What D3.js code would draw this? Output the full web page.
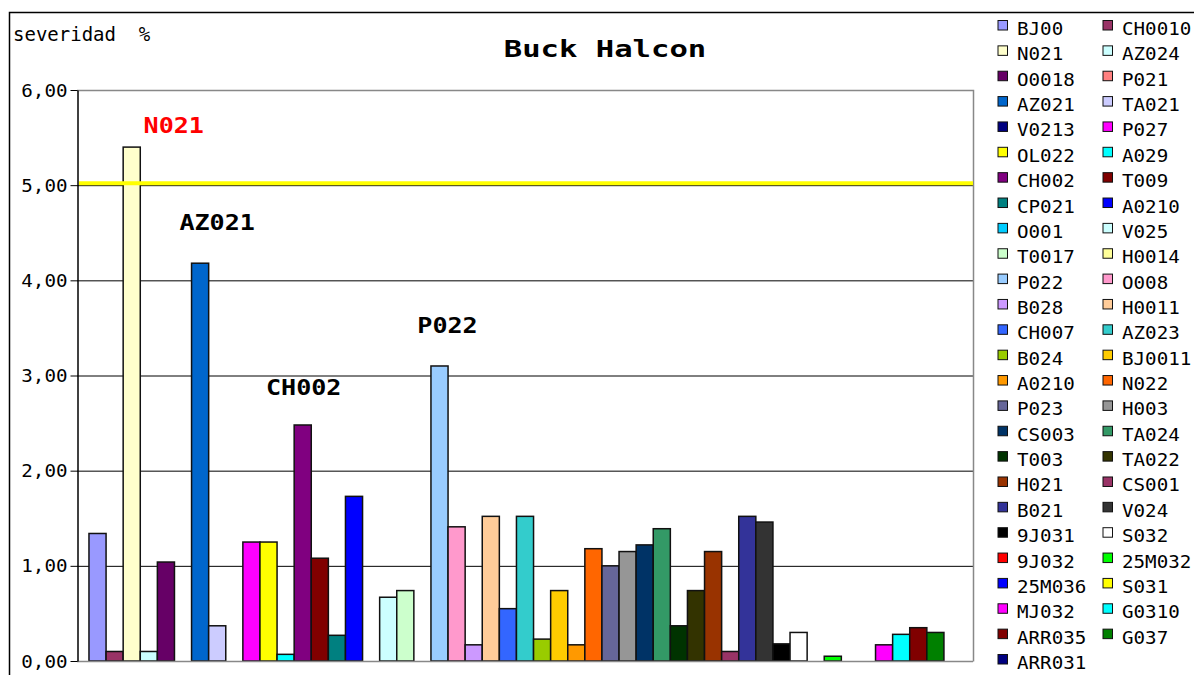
<!DOCTYPE html>
<html>
<head>
<meta charset="utf-8">
<script src="https://cdn.jsdelivr.net/npm/d3@7/dist/d3.min.js"></script>
<style>
  html, body { margin: 0; padding: 0; background: #fff; }
  svg { display: block; }
  text { font-family: "DejaVu Sans Mono", monospace; fill: #000; }
</style>
</head>
<body>
<svg id="chart" width="1194" height="675"></svg>
<script>
// ---- data ----
const seriesNames = [
  "BJ00", "CH0010", "N021", "AZ024", "O0018", "P021", "AZ021", "TA021", "V0213", "P027",
  "OL022", "A029", "CH002", "T009", "CP021", "A0210", "O001", "V025", "T0017", "H0014",
  "P022", "O008", "B028", "H0011", "CH007", "AZ023", "B024", "BJ0011", "A0210", "N022",
  "P023", "H003", "CS003", "TA024", "T003", "TA022", "H021", "CS001", "B021", "V024",
  "9J031", "S032", "9J032", "25M032", "25M036", "S031", "MJ032", "G0310", "ARR035", "G037",
  "ARR031"
];
// severidad % per series (null = no bar)
const seriesValues = [
  1.34, 0.10, 5.40, 0.10, 1.04, null, 4.18, 0.37, null, 1.25,
  1.25, 0.07, 2.48, 1.08, 0.27, 1.73, null, 0.67, 0.74, null,
  3.10, 1.41, 0.17, 1.52, 0.55, 1.52, 0.23, 0.74, 0.17, 1.18,
  1.00, 1.15, 1.22, 1.39, 0.37, 0.74, 1.15, 0.10, 1.52, 1.46,
  0.18, 0.30, null, 0.05, null, null, 0.17, 0.28, 0.35, 0.30,
  null
];
const seriesColors = [
  "#9999FF", "#993366", "#FFFFCC", "#CCFFFF", "#660066", "#FF8080", "#0066CC", "#CCCCFF", "#000080", "#FF00FF",
  "#FFFF00", "#00FFFF", "#800080", "#800000", "#008080", "#0000FF", "#00CCFF", "#CCFFFF", "#CCFFCC", "#FFFF99",
  "#99CCFF", "#FF99CC", "#CC99FF", "#FFCC99", "#3366FF", "#33CCCC", "#99CC00", "#FFCC00", "#FF9900", "#FF6600",
  "#666699", "#969696", "#003366", "#339966", "#003300", "#333300", "#993300", "#993366", "#333399", "#333333",
  "#000000", "#FFFFFF", "#FF0000", "#00FF00", "#0000FF", "#FFFF00", "#FF00FF", "#00FFFF", "#800000", "#008000",
  "#000080"
];
const yTickValues = [0, 1, 2, 3, 4, 5, 6];
const yTickLabels = ["0,00", "1,00", "2,00", "3,00", "4,00", "5,00", "6,00"];
const thresholdValue = 5.02;
const chartTitle = "Buck Halcon";
const axisTitle = "severidad  %";
const calloutSeries = ["N021", "AZ021", "CH002", "P022"];
const calloutColors = ["#FF0000", "#000000", "#000000", "#000000"];

// ---- layout ----
const plot = { left: 77, right: 973, top: 90, bottom: 661 };
const calloutOffsets = { N021: [42, -14], AZ021: [17, -33], CH002: [1, -30], P022: [8, -33] };
const textStretch = 1.2;

const svg = d3.select("#chart");

// outer frame
svg.append("rect")
  .attr("x", 9.5).attr("y", 12.5)
  .attr("width", 1300).attr("height", 800)
  .attr("fill", "none").attr("stroke", "#000").attr("stroke-width", 1.5);

const x = d3.scaleBand()
  .domain(d3.range(seriesNames.length))
  .range([plot.left, plot.right])
  .paddingInner(0)
  .paddingOuter(0.7);

const y = d3.scaleLinear().domain([0, 6]).range([plot.bottom, plot.top]);

// gridlines
svg.append("g")
  .selectAll("line")
  .data(yTickValues.filter(v => v > 0 && v < 6))
  .join("line")
  .attr("x1", plot.left).attr("x2", plot.right)
  .attr("y1", d => y(d) + 0.5).attr("y2", d => y(d) + 0.5)
  .attr("stroke", "#000").attr("stroke-width", 1);

// plot border (top and right in grey)
svg.append("path")
  .attr("d", `M${plot.left},${plot.top + 0.5}H${plot.right + 0.5}V${plot.bottom + 0.5}`)
  .attr("fill", "none").attr("stroke", "#888").attr("stroke-width", 1.5);

// bars
svg.append("g")
  .selectAll("rect")
  .data(seriesValues.map((v, i) => ({ i, v })).filter(d => d.v !== null))
  .join("rect")
  .attr("x", d => x(d.i))
  .attr("y", d => y(d.v))
  .attr("width", x.bandwidth())
  .attr("height", d => y(0) - y(d.v))
  .attr("fill", d => seriesColors[d.i])
  .attr("stroke", "#111")
  .attr("stroke-width", 1.5);

// threshold line
svg.append("line")
  .attr("x1", plot.left + 2).attr("x2", plot.right)
  .attr("y1", y(thresholdValue)).attr("y2", y(thresholdValue))
  .attr("stroke", "#FFFF00").attr("stroke-width", 4);

// x baseline
svg.append("line")
  .attr("x1", plot.left).attr("x2", plot.right)
  .attr("y1", plot.bottom + 0.5).attr("y2", plot.bottom + 0.5)
  .attr("stroke", "#888").attr("stroke-width", 1.5);

// y axis
const yAxis = d3.axisLeft(y)
  .tickValues(yTickValues)
  .tickFormat((d, i) => yTickLabels[i])
  .tickSizeInner(7).tickSizeOuter(0).tickPadding(10);

const gy = svg.append("g")
  .attr("transform", `translate(${plot.left + 0.5},0)`)
  .call(yAxis);
gy.select(".domain").attr("stroke", "#000").attr("stroke-width", 1.5);
gy.selectAll(".tick line").attr("stroke", "#000").attr("stroke-width", 1);
gy.selectAll(".tick text")
  .attr("font-size", 17)
  .attr("font-family", "DejaVu Sans Mono")
  .attr("x", -10 / 1.13)
  .attr("dy", "0.36em")
  .attr("transform", `scale(1.13,1)`);

// helper for horizontally stretched text
function stretchedText(sel, tx, ty, k) {
  return sel.append("text")
    .attr("transform", `translate(${tx},${ty}) scale(${k},1)`);
}

// axis title
stretchedText(svg, 13, 41, 1.0)
  .attr("font-size", 19)
  .attr("xml:space", "preserve")
  .text(axisTitle);

// chart title
stretchedText(svg, 605, 57, 1.33)
  .attr("font-size", 23)
  .attr("font-weight", "bold")
  .attr("text-anchor", "middle")
  .text(chartTitle);

// callout labels above selected bars
calloutSeries.forEach((name, k) => {
  const i = seriesNames.indexOf(name);
  const [dx, dy] = calloutOffsets[name];
  stretchedText(svg, x(i) + x.bandwidth() / 2 + dx, y(seriesValues[i]) + dy, 1.14)
    .attr("font-size", 22)
    .attr("font-weight", "bold")
    .attr("text-anchor", "middle")
    .style("fill", calloutColors[k])
    .text(name);
});

// legend: two columns
const legend = { x: 998, colGap: 105, y: 29, rowStep: 25.36, swatch: 9.5 };
const lg = svg.append("g");
seriesNames.forEach((name, i) => {
  const col = i % 2, row = Math.floor(i / 2);
  const gx = legend.x + col * legend.colGap;
  const gyy = legend.y + row * legend.rowStep;
  lg.append("rect")
    .attr("x", gx).attr("y", gyy - 8.5)
    .attr("width", legend.swatch).attr("height", legend.swatch)
    .attr("fill", seriesColors[i])
    .attr("stroke", "#111").attr("stroke-width", 1);
  stretchedText(lg, gx + 19, gyy + 6, 1.13)
    .attr("font-size", 17)
    .text(name);
});
</script>
</body>
</html>
